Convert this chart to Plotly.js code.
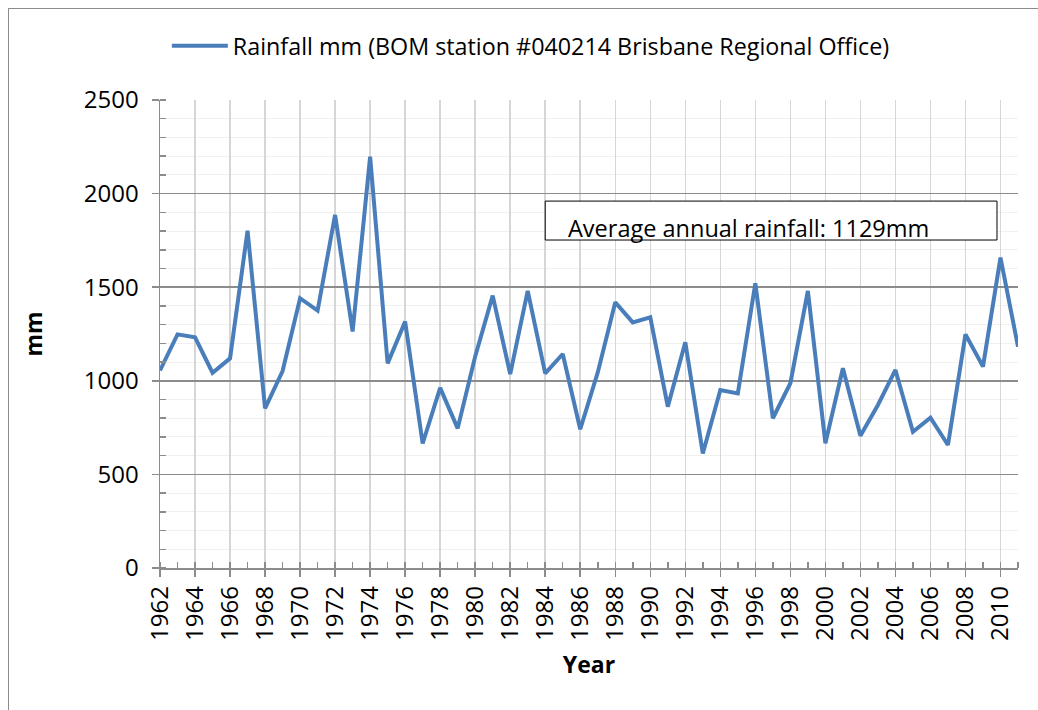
<!DOCTYPE html>
<html>
<head>
<meta charset="utf-8">
<script src="https://cdn.plot.ly/plotly-3.0.1.min.js"></script>
<style>
  html, body { margin: 0; padding: 0; background: #fff; }
  #chart { width: 1038px; height: 710px; }
  #frame { position: absolute; left: 8px; top: 8px; width: 1100px; height: 800px;
           border-left: 1px solid #8c8c8c; border-top: 1px solid #8c8c8c; pointer-events: none; }
</style>
</head>
<body>
<div id="chart"></div>
<div id="frame"></div>
<script>
const years = [1962,1963,1964,1965,1966,1967,1968,1969,1970,1971,1972,1973,1974,1975,1976,1977,1978,1979,1980,
  1981,1982,1983,1984,1985,1986,1987,1988,1989,1990,1991,1992,1993,1994,1995,1996,1997,1998,1999,2000,
  2001,2002,2003,2004,2005,2006,2007,2008,2009,2010,2011];
const rainfall = [1055,1248,1232,1043,1120,1802,853,1052,1441,1375,1886,1263,2197,1093,1316,665,962,746,1130,
  1455,1036,1480,1040,1143,741,1045,1419,1312,1339,862,1206,612,951,933,1521,800,987,1480,666,
  1067,707,871,1058,728,803,657,1248,1076,1658,1182];
const seriesName = 'Rainfall mm (BOM station #040214 Brisbane Regional Office)';
const noteText = 'Average annual rainfall: 1129mm';

const FONT = 'Open Sans, Lato, sans-serif';

const trace = {
  x: years, y: rainfall, name: seriesName, type: 'scatter', mode: 'lines',
  line: { color: '#4a7ebb', width: 4 }
};

const layout = {
  width: 1038, height: 710,
  margin: { l: 160, r: 20, t: 100, b: 142 },
  paper_bgcolor: '#ffffff', plot_bgcolor: '#ffffff',
  font: { family: FONT, size: 23, color: '#000' },
  showlegend: true,
  legend: { orientation: 'h', x: 0.008, xanchor: 'left', y: 1.115, yanchor: 'middle',
            font: { family: FONT, size: 23.3, color: '#000' }, itemwidth: 56, bgcolor: 'rgba(0,0,0,0)' },
  xaxis: {
    range: [1962, 2011], tick0: 1962, dtick: 2, tickangle: -90,
    showgrid: true, gridcolor: '#d6d6d6', gridwidth: 1.5,
    showline: true, linecolor: '#8c8c8c', linewidth: 1.5,
    ticks: 'outside', ticklen: 7, tickcolor: '#8c8c8c', tickwidth: 1.5,
    minor: { dtick: 1, ticks: 'inside', ticklen: 6, tickcolor: '#8c8c8c', showgrid: false },
    tickfont: { family: FONT, size: 24 },
    zeroline: false,
    title: { text: '<b>Year</b>', font: { family: FONT, size: 23 }, standoff: 17 }
  },
  yaxis: {
    range: [0, 2500], dtick: 500,
    showgrid: true, gridcolor: '#8c8c8c', gridwidth: 1.5,
    showline: true, linecolor: '#8c8c8c', linewidth: 1.5,
    ticks: 'outside', ticklen: 7, tickcolor: '#8c8c8c', tickwidth: 1.5,
    minor: { dtick: 100, ticks: 'inside', ticklen: 6, tickcolor: '#8c8c8c', showgrid: true, gridcolor: '#f0f0f0', gridwidth: 1 },
    tickfont: { family: FONT, size: 24 },
    ticklabelstandoff: 8,
    zeroline: false,
    title: { text: '<b>mm</b>', font: { family: FONT, size: 23 }, standoff: 35 }
  },
  shapes: [
    { type: 'rect', xref: 'x', yref: 'y', x0: 1984.0, x1: 2009.8, y0: 1752, y1: 1960,
      line: { color: '#000', width: 1 }, fillcolor: '#ffffff', layer: 'above' }
  ],
  annotations: [
    { text: noteText, xref: 'x', yref: 'y', x: 1985.2, y: 1818, xanchor: 'left', yanchor: 'middle',
      showarrow: false, font: { family: FONT, size: 23.5, color: '#000' } }
  ]
};

Plotly.newPlot('chart', [trace], layout, { displayModeBar: false, staticPlot: true });
</script>
</body>
</html>
